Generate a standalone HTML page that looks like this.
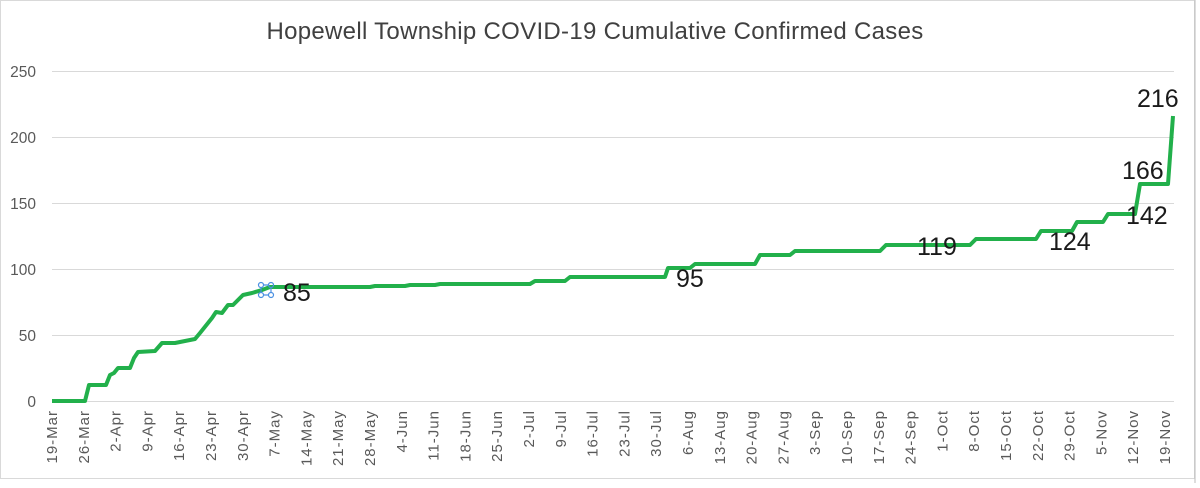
<!DOCTYPE html><html><head><style>body{margin:0;background:#fff}</style></head><body>
<svg width="1200" height="483" xmlns="http://www.w3.org/2000/svg" font-family="Liberation Sans, sans-serif">
<rect x="0.5" y="0.5" width="1194" height="478" fill="#fff" stroke="#d9d9d9"/>
<text x="595" y="39" font-size="24" letter-spacing="0.3" fill="#404040" text-anchor="middle">Hopewell Township COVID-19 Cumulative Confirmed Cases</text>
<g stroke="#d9d9d9" stroke-width="1">
<line x1="52" x2="1174" y1="71.5" y2="71.5"/><line x1="52" x2="1174" y1="137.5" y2="137.5"/><line x1="52" x2="1174" y1="203.5" y2="203.5"/><line x1="52" x2="1174" y1="269.5" y2="269.5"/><line x1="52" x2="1174" y1="335.5" y2="335.5"/><line x1="52" x2="1174" y1="401.5" y2="401.5"/>
</g>
<g font-size="15.5" fill="#595959" text-anchor="end">
<text x="36" y="77">250</text><text x="36" y="143">200</text><text x="36" y="209">150</text><text x="36" y="275">100</text><text x="36" y="341">50</text><text x="36" y="407">0</text>
</g>
<g font-size="15" letter-spacing="1" fill="#595959" text-anchor="end" id="xl"></g>
<polyline fill="none" stroke="#22b04b" stroke-width="4" stroke-linejoin="round" points="52,401 85,401 89,385 106,385 110,375 114,373 118,368 130,368 134,358 138,352 155,351 162,343 175,343 195,339 200,333 212,318 216,312 222,313 228,305 233,305 243,295 252,293 262,290 270,287 370,287 375,286 405,286 410,285 435,285 440,284 530,284 535,281 565,281 570,277 665,277 668,268 690,268 695,264 755,264 760,255 790,255 795,251 880,251 886,245 970,245 976,239 1036,239 1041,231 1072,231 1077,222 1103,222 1108,214 1135,214 1140,184 1168,184 1173,116"/>
<g fill="none" stroke="#4a90e2" stroke-width="1.2"><circle cx="261" cy="285" r="2.5"/><circle cx="271" cy="285" r="2.5"/><circle cx="261" cy="295" r="2.5"/><circle cx="271" cy="295" r="2.5"/><path d="M263,285h6M263,295h6M261,287v6M271,287v6"/></g>
<g font-size="25" fill="#1a1a1a">
<text x="283" y="301">85</text><text x="676" y="287">95</text><text x="917" y="255">119</text><text x="1049" y="250">124</text><text x="1126" y="224">142</text><text x="1122" y="179">166</text><text x="1137" y="107">216</text>
</g>
<line x1="1195" y1="0" x2="1195" y2="483" stroke="#bbb"/>
</svg>
<script>
var L=["19-Mar","26-Mar","2-Apr","9-Apr","16-Apr","23-Apr","30-Apr","7-May","14-May","21-May","28-May","4-Jun","11-Jun","18-Jun","25-Jun","2-Jul","9-Jul","16-Jul","23-Jul","30-Jul","6-Aug","13-Aug","20-Aug","27-Aug","3-Sep","10-Sep","17-Sep","24-Sep","1-Oct","8-Oct","15-Oct","22-Oct","29-Oct","5-Nov","12-Nov","19-Nov"];
var g=document.getElementById("xl"),s="";
L.forEach(function(t,i){var x=52+i*31.8+5;s+='<text transform="translate('+x+',410) rotate(-90)">'+t+'</text>';});
g.innerHTML=s;
</script>
</body></html>
